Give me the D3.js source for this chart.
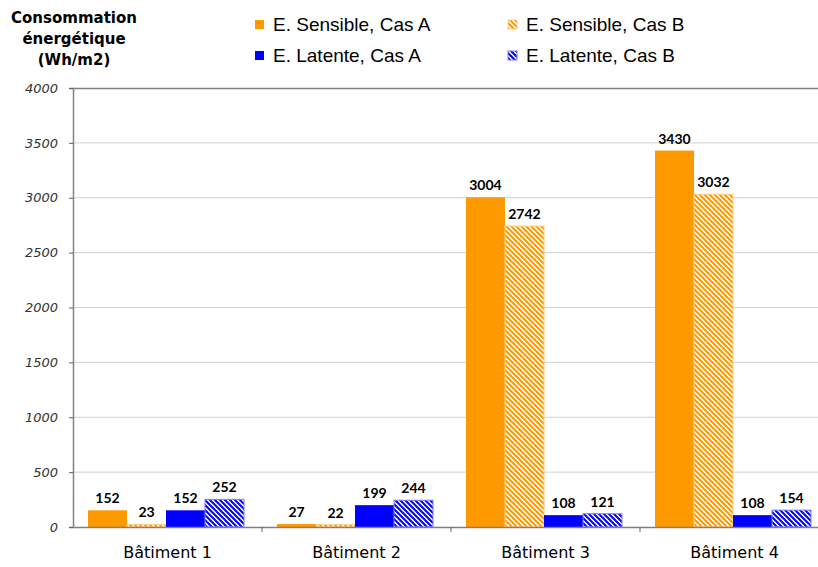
<!DOCTYPE html>
<html><head><meta charset="utf-8">
<script src="https://cdn.jsdelivr.net/npm/d3@7"></script>
<style>body{margin:0;background:#fff}svg{display:block}</style>
</head><body>
<svg id="c" width="818" height="567"></svg>
<script>
const categories = ["Bâtiment 1","Bâtiment 2","Bâtiment 3","Bâtiment 4"];
const seriesNames = ["E. Sensible, Cas A","E. Sensible, Cas B","E. Latente, Cas A","E. Latente, Cas B"];
const sensibleA = [152,27,3004,3430];
const sensibleB = [23,22,2742,3032];
const latenteA = [152,199,108,108];
const latenteB = [252,244,121,154];
const yTicks = [0,500,1000,1500,2000,2500,3000,3500,4000];
const seriesValues = [sensibleA,sensibleB,latenteA,latenteB];
const fills = ["#FF9900","url(#hO)","#0000FF","url(#hB)"];
const strokes = ["none","#FFCC80","none","#8080FF"];

const svg = d3.select("#c");
const defs = svg.append("defs");
function hatch(id,color){
  const p = defs.append("pattern").attr("id",id).attr("patternUnits","userSpaceOnUse")
    .attr("width",5).attr("height",5);
  p.append("rect").attr("width",5).attr("height",5).attr("fill","#fff");
  p.append("path").attr("d","M-1,-1 L6,6 M-1,4 L1,6 M4,-1 L6,1")
    .attr("stroke",color).attr("stroke-width",2);
}
hatch("hO","#FF9900"); hatch("hB","#0000FF");

const L=73, T=88, B=527, W=756;
const x = d3.scaleBand().domain(categories).range([L,L+W]).paddingInner(0).paddingOuter(0);
const xs = d3.scaleBand().domain(d3.range(4)).range([15,15+156]);
const y = d3.scaleLinear().domain([0,4000]).range([B,T]);

// gridlines
svg.append("g").selectAll("line").data(yTicks.filter(d=>d>0 && d<4000)).join("line")
  .attr("x1",L).attr("x2",L+W).attr("y1",d=>y(d)).attr("y2",d=>y(d))
  .attr("stroke","#D0D0D0").attr("stroke-width",1);
// top border
svg.append("line").attr("x1",L).attr("x2",L+W).attr("y1",y(4000)+0.5).attr("y2",y(4000)+0.5)
  .attr("stroke","#808080").attr("stroke-width",1.5);

// bars
const g = svg.append("g");
categories.forEach((c,ci)=>{
  seriesValues.forEach((vals,si)=>{
    const v = vals[ci];
    const bx = x(c)+xs(si);
    g.append("rect").attr("x",bx).attr("y",y(v)).attr("width",xs.bandwidth()).attr("height",B-y(v))
      .attr("fill",fills[si]).attr("stroke",strokes[si]).attr("stroke-width",strokes[si]==="none"?0:1);
    g.append("text").attr("x",bx+xs.bandwidth()/2).attr("y",y(v)-7)
      .attr("text-anchor","middle").attr("font-family","Lato, 'DejaVu Sans', sans-serif")
      .attr("font-weight","bold").attr("font-size",14).attr("fill","#000").text(v);
  });
});

// y axis
const ya = svg.append("g").attr("transform",`translate(${L},0)`)
  .call(d3.axisLeft(y).tickValues(yTicks).tickSize(4).tickPadding(11).tickFormat(d3.format("d")));
ya.select(".domain").attr("stroke","#808080").attr("stroke-width",1.5);
ya.selectAll(".tick line").attr("stroke","#606060");
ya.selectAll("text").attr("font-family","'DejaVu Sans', sans-serif").attr("font-style","italic")
  .attr("font-size",13).attr("fill","#333");

// x axis
const xa = svg.append("g").attr("transform",`translate(0,${B})`)
  .call(d3.axisBottom(x).tickSize(0).tickPadding(20));
xa.select(".domain").attr("stroke","#808080").attr("stroke-width",1.5);
xa.selectAll("text").attr("font-family","'DejaVu Sans', sans-serif").attr("font-size",16).attr("fill","#000");
svg.append("g").selectAll("line").data(categories.slice(1)).join("line")
  .attr("x1",d=>x(d)).attr("x2",d=>x(d)).attr("y1",B).attr("y2",B+5).attr("stroke","#606060");

// title
const title = svg.append("text").attr("text-anchor","middle").attr("font-family","'DejaVu Sans', sans-serif")
  .attr("font-weight","bold").attr("font-size",15).attr("fill","#000");
["Consommation","énergétique","(Wh/m2)"].forEach((t,i)=>{
  title.append("tspan").attr("x",74).attr("y",23+i*21).text(t);
});

// legend
const legPos = [[255,31],[508,31],[255,62],[508,62]];
seriesNames.forEach((n,i)=>{
  const [lx,ly] = legPos[i];
  svg.append("rect").attr("x",lx).attr("y",ly-11).attr("width",9).attr("height",9)
    .attr("fill",fills[i]).attr("stroke",strokes[i]).attr("stroke-width",strokes[i]==="none"?0:1);
  svg.append("text").attr("x",lx+18).attr("y",ly).attr("font-family","'Liberation Sans', Arial, sans-serif")
    .attr("font-size",19).attr("fill","#000").text(n);
});
</script>
</body></html>
